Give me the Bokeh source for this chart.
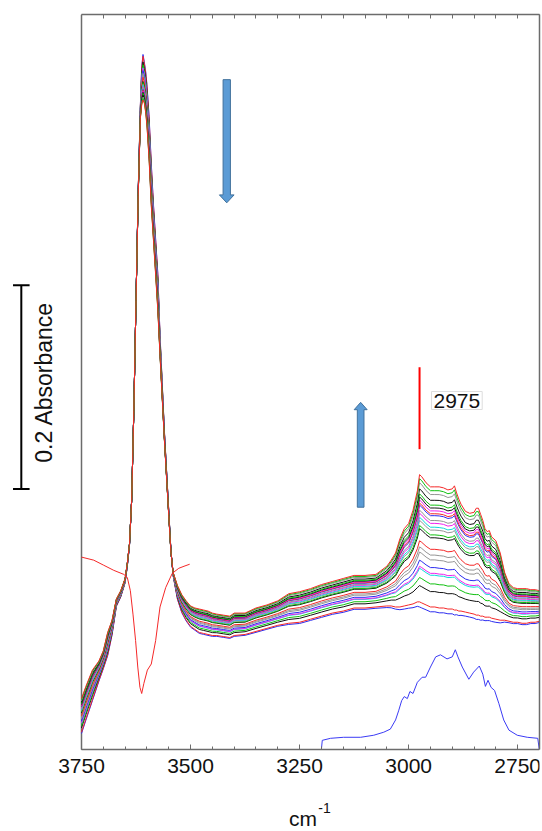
import math
import numpy as np
from bokeh.plotting import figure
from bokeh.models import LinearAxis, FixedTicker, Range1d, ColumnDataSource, Label
from bokeh.core.properties import value
from bokeh.embed import file_html
from bokeh.resources import INLINE

# ---------------- data ----------------
wavenumber = [3750, 3740, 3725, 3710, 3700, 3690, 3680, 3670, 3660, 3650,
              3645, 3640, 3635, 3630, 3625, 3620, 3615, 3612, 3609, 3606,
              3603, 3600, 3595, 3590, 3585, 3580, 3575, 3570, 3560, 3550,
              3545, 3540, 3530, 3520, 3510, 3500, 3490, 3480, 3470, 3460, 3450,
              3440, 3425, 3410, 3400, 3375, 3350, 3325, 3300, 3275, 3250,
              3225, 3200, 3175, 3150, 3125, 3100, 3075, 3050, 3040, 3030,
              3020, 3010, 3000, 2990, 2980, 2975, 2970, 2960, 2950, 2940,
              2930, 2920, 2910, 2900, 2895, 2890, 2885, 2880, 2870, 2860,
              2850, 2845, 2840, 2835, 2830, 2825, 2820, 2815, 2810, 2800,
              2790, 2780, 2770, 2760, 2750, 2740, 2730, 2720, 2710, 2700]

# earliest spectrum of the series (lowest C-H band, highest O-H band)
first_spectrum = [0.017, 0.030, 0.049, 0.068, 0.080, 0.093, 0.113, 0.141, 0.150, 0.164,
                  0.180, 0.200, 0.245, 0.333, 0.441, 0.549, 0.633, 0.669, 0.681, 0.674,
                  0.665, 0.652, 0.620, 0.574, 0.534, 0.500, 0.466, 0.407, 0.313, 0.235,
                  0.196, 0.171, 0.148, 0.135, 0.127, 0.121, 0.118, 0.115, 0.114, 0.113, 0.112,
                  0.112, 0.111, 0.110, 0.112, 0.113, 0.116, 0.119, 0.122, 0.124, 0.125,
                  0.128, 0.131, 0.134, 0.136, 0.139, 0.139, 0.140, 0.141, 0.141, 0.140,
                  0.140, 0.141, 0.142, 0.143, 0.145, 0.145, 0.144, 0.142, 0.140, 0.140,
                  0.139, 0.139, 0.138, 0.138, 0.137, 0.137, 0.136, 0.136, 0.135, 0.134,
                  0.133, 0.132, 0.132, 0.131, 0.131, 0.130, 0.130, 0.130, 0.129, 0.128,
                  0.127, 0.127, 0.126, 0.125, 0.125, 0.124, 0.124, 0.125, 0.125, 0.126]

# latest spectrum of the series (highest C-H band)
last_spectrum = [0.050, 0.062, 0.078, 0.087, 0.097, 0.115, 0.127, 0.148, 0.156, 0.168,
                 0.183, 0.202, 0.245, 0.333, 0.441, 0.544, 0.620, 0.633, 0.638, 0.635,
                 0.626, 0.613, 0.579, 0.534, 0.500, 0.466, 0.431, 0.387, 0.304, 0.230,
                 0.194, 0.174, 0.161, 0.152, 0.146, 0.141, 0.139, 0.138, 0.137, 0.136, 0.134,
                 0.133, 0.132, 0.131, 0.134, 0.134, 0.139, 0.142, 0.146, 0.153, 0.155,
                 0.158, 0.162, 0.165, 0.168, 0.171, 0.171, 0.172, 0.180, 0.186, 0.193,
                 0.207, 0.217, 0.222, 0.235, 0.254, 0.270, 0.268, 0.262, 0.258, 0.258,
                 0.258, 0.257, 0.255, 0.256, 0.259, 0.252, 0.246, 0.241, 0.234, 0.232,
                 0.233, 0.237, 0.237, 0.231, 0.225, 0.217, 0.214, 0.215, 0.209, 0.205,
                 0.193, 0.174, 0.163, 0.159, 0.158, 0.158, 0.158, 0.157, 0.157, 0.156]

# absorbance of every spectrum at 2975 cm-1 (bottom to top) and its colour
peak_2975 = [0.140, 0.145, 0.161, 0.169, 0.178, 0.180, 0.186, 0.194, 0.199, 0.205,
             0.217, 0.220, 0.225, 0.228, 0.232, 0.235, 0.240, 0.242, 0.245, 0.248,
             0.251, 0.256, 0.262, 0.266, 0.270]
spectrum_colors = ["blue", "red", "black", "green", "cyan", "magenta", "blue", "gray",
                   "gray", "red", "black", "green", "gray", "cyan", "magenta", "gray",
                   "blue", "red", "magenta", "black", "green", "black", "gray", "green", "red"]

# difference spectrum (red, O-H region)
diff_wn = [3750, 3722, 3699, 3676, 3653, 3645, 3638, 3632, 3626, 3621, 3616,
           3612, 3607, 3599, 3590, 3580, 3570, 3557, 3542, 3527, 3515, 3502]
diff_abs = [0.189, 0.186, 0.181, 0.176, 0.172, 0.169, 0.156, 0.133, 0.107, 0.081, 0.061,
            0.055, 0.065, 0.078, 0.084, 0.107, 0.140, 0.159, 0.173, 0.178, 0.180, 0.182]

# reference spectrum (blue, C-H region)
ref_wn = [3200, 3198, 3179, 3149, 3110, 3080, 3057, 3042, 3030, 3023, 3016, 3010, 3003,
          2997, 2990, 2980, 2969, 2961, 2950, 2938, 2927, 2912, 2900, 2893, 2887, 2877,
          2862, 2851, 2838, 2830, 2824, 2818, 2811, 2803, 2793, 2782, 2770, 2751, 2728,
          2704, 2700.5]
ref_abs = [0.000, 0.009, 0.011, 0.012, 0.012, 0.014, 0.017, 0.020, 0.029, 0.038, 0.048,
           0.052, 0.050, 0.057, 0.055, 0.066, 0.071, 0.071, 0.081, 0.091, 0.093, 0.089,
           0.091, 0.098, 0.091, 0.081, 0.069, 0.076, 0.082, 0.074, 0.062, 0.068, 0.061,
           0.058, 0.045, 0.029, 0.019, 0.014, 0.012, 0.011, 0.000]

x_ticks = [3750, 3500, 3250, 3000, 2750]
marker_wn = 2975
scale_bar_value = 0.2

# ---------------- styling ----------------
COLORS = {"red": "#f52828", "blue": "#2c2cf0", "black": "#111111", "green": "#10c010",
          "cyan": "#10dada", "magenta": "#f020f0", "gray": "#959595"}
AXIS_COLOR = "#6c6c6c"
TEXT_COLOR = "#111111"
FONT = "Liberation Sans"

W, H = 542, 831
BORDER_RIGHT, BORDER_TOP = 3, 14
AXIS_LEFT_PX = 81
AXIS_BOTTOM_PX = 749
PX_PER_ABS = 1018.0
x_lo, x_hi = 3750, 2700
frame_w = W - BORDER_RIGHT
x_start = x_lo + AXIS_LEFT_PX * (x_lo - x_hi) / (frame_w - AXIS_LEFT_PX)
y_top = (AXIS_BOTTOM_PX - BORDER_TOP) / PX_PER_ABS
y_bottom = -(H - AXIS_BOTTOM_PX) / PX_PER_ABS

p = figure(width=W, height=H, output_backend="svg", toolbar_location=None,
           x_range=Range1d(x_start, x_hi), y_range=Range1d(y_bottom, y_top),
           x_axis_type=None, y_axis_type=None,
           min_border_left=0, min_border_right=BORDER_RIGHT,
           min_border_top=BORDER_TOP, min_border_bottom=0)
p.outline_line_color = None
p.background_fill_color = "white"
p.border_fill_color = "white"

minor = list(range(x_hi, x_lo + 1, 50))

# bottom axis, fixed at absorbance 0 inside the frame
bax = LinearAxis(ticker=FixedTicker(ticks=x_ticks, minor_ticks=minor), bounds=(x_hi, x_lo),
                 fixed_location=0)
bax.axis_line_color = AXIS_COLOR
bax.axis_line_width = 1.5
bax.major_tick_in = 5
bax.major_tick_out = 0
bax.minor_tick_in = 3
bax.minor_tick_out = 0
bax.major_tick_line_color = AXIS_COLOR
bax.minor_tick_line_color = AXIS_COLOR
bax.major_label_text_font = FONT
bax.major_label_text_font_size = "21px"
bax.major_label_text_color = TEXT_COLOR
bax.major_label_standoff = 9
p.add_layout(bax, "below")

# top axis: ticks only
tax = LinearAxis(ticker=FixedTicker(ticks=[], minor_ticks=minor), bounds=(x_hi, x_lo))
tax.axis_line_color = AXIS_COLOR
tax.axis_line_width = 1.5
tax.minor_tick_in = 4
tax.minor_tick_out = 0
tax.minor_tick_line_color = AXIS_COLOR
tax.major_tick_line_color = None
tax.major_label_standoff = 0
p.add_layout(tax, "above")

# right edge: plain line
rax = LinearAxis(ticker=FixedTicker(ticks=[]), bounds=(0, y_top), major_label_standoff=0,
                 major_tick_line_color=None, minor_tick_line_color=None,
                 axis_line_color=AXIS_COLOR, axis_line_width=1.5)
p.add_layout(rax, "right")

# left edge of the plot box
p.segment(x0=[x_lo], y0=[0], x1=[x_lo], y1=[y_top], line_color=AXIS_COLOR, line_width=1.5)

# ---------------- spectra ----------------
wn = np.array(wavenumber, dtype=float)
F = np.array(first_spectrum)
L = np.array(last_spectrum)
i_ref = wavenumber.index(marker_wn)
xs, ys, cols = [], [], []
for h, c in zip(peak_2975, spectrum_colors):
    t = (h - F[i_ref]) / (L[i_ref] - F[i_ref])
    xs.append(list(wn))
    ys.append(list(F + t * (L - F)))
    cols.append(COLORS[c])
p.multi_line(xs="xs", ys="ys", line_color="c", line_width=1,
             source=ColumnDataSource(dict(xs=xs, ys=ys, c=cols)))

p.line(diff_wn, diff_abs, line_color=COLORS["red"], line_width=1)
p.line(ref_wn, ref_abs, line_color="#3b3bf5", line_width=1)

# ---------------- annotations ----------------
# scale bar
sb_x, sb_y0 = 3888, 0.256
sb_half_cap = 19
p.segment(x0=[sb_x, sb_x - sb_half_cap, sb_x - sb_half_cap],
          y0=[sb_y0, sb_y0, sb_y0 + scale_bar_value],
          x1=[sb_x, sb_x + sb_half_cap, sb_x + sb_half_cap],
          y1=[sb_y0 + scale_bar_value, sb_y0, sb_y0 + scale_bar_value],
          line_color="black", line_width=2)
p.text(x=[3836], y=[0.364], text=["0.2  Absorbance"],
       angle=math.pi / 2, text_align="center", text_baseline="middle",
       text_font=value(FONT), text_font_size="23px", text_color=TEXT_COLOR)


def arrow(xc, y_tail, y_tip, shaft_w, head_w, head_len):
    d = 1 if y_tip > y_tail else -1
    yb = y_tip - d * head_len
    xsa = [xc - shaft_w / 2, xc + shaft_w / 2, xc + shaft_w / 2, xc + head_w / 2, xc,
           xc - head_w / 2, xc - shaft_w / 2]
    ysa = [y_tail, y_tail, yb, yb, y_tip, yb, yb]
    return xsa, ysa


a1 = arrow(3417, 0.658, 0.537, 16.8, 33.7, 0.0078)
a2 = arrow(3110, 0.238, 0.341, 15.3, 29.8, 0.0072)
p.patches(xs=[a1[0], a2[0]], ys=[a1[1], a2[1]], fill_color="#5b9bd5",
          line_color="#41719c", line_width=1)

# 2975 marker
p.segment(x0=[marker_wn], y0=[0.295], x1=[marker_wn], y1=[0.3755],
          line_color="#ff0000", line_width=2)
p.add_layout(Label(x=2947.6, y=0.3428, text="2975", text_font=FONT, text_font_size="21px",
                   text_baseline="alphabetic", text_color=TEXT_COLOR,
                   background_fill_color="white", border_line_color="#dedede",
                   padding=2))

# axis title cm-1
p.text(x=[3242], y=[-0.0678], text=["cm"], text_align="center", text_baseline="alphabetic",
       text_font=value(FONT), text_font_size="21px", text_color=TEXT_COLOR)
p.text(x=[3207], y=[-0.0570], text=["-1"], text_align="left", text_baseline="alphabetic",
       text_font=value(FONT), text_font_size="14px", text_color=TEXT_COLOR)

open("out.html", "w").write(file_html(p, INLINE))
